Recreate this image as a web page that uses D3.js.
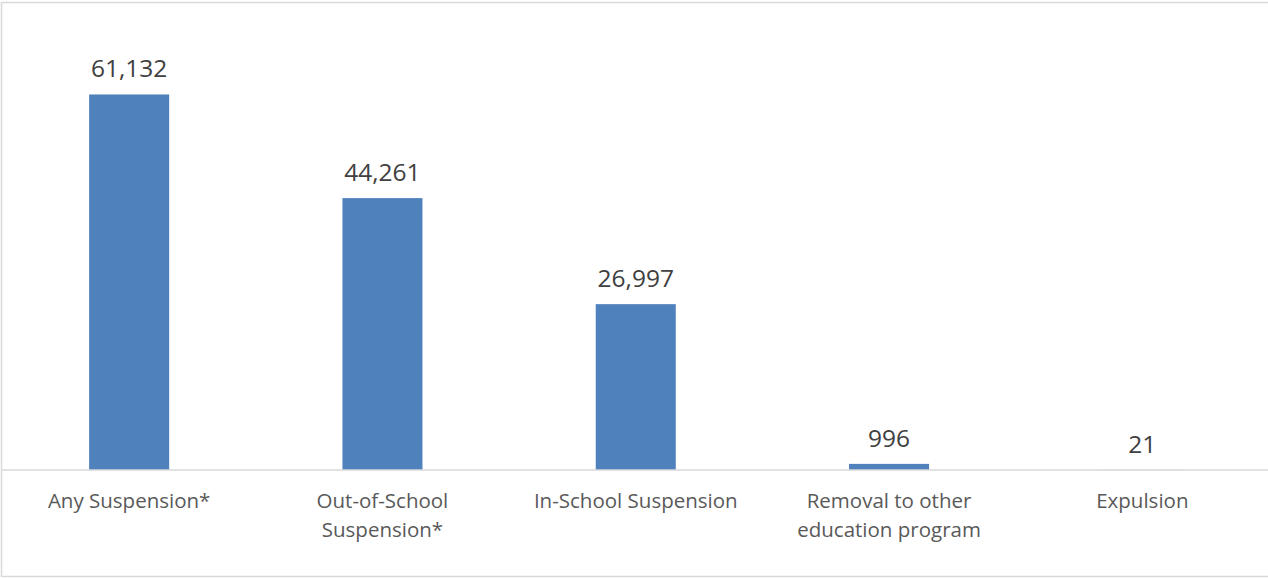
<!DOCTYPE html>
<html>
<head>
<meta charset="utf-8">
<script src="https://cdn.jsdelivr.net/npm/d3@7"></script>
<style>
  html, body { margin: 0; padding: 0; background: #fff; }
  svg { display: block; }
</style>
</head>
<body>
<svg id="chart" width="1268" height="578"></svg>
<script>
// Disciplinary actions, number of students
const categories = [
  ["Any Suspension*"],
  ["Out-of-School", "Suspension*"],
  ["In-School Suspension"],
  ["Removal to other", "education program"],
  ["Expulsion"]
];
const values = [61132, 44261, 26997, 996, 21];
const yDomain = [0, 70000];

const W = 1268, H = 578;
const svg = d3.select("#chart");

// chart frame
svg.append("rect")
  .attr("x", 1.5).attr("y", 2.5)
  .attr("width", W + 10).attr("height", 574)
  .attr("fill", "#fff")
  .attr("stroke", "#d9d9d9").attr("stroke-width", 1.5);

const x = d3.scaleBand()
  .domain(d3.range(values.length))
  .range([2.5, 1269])
  .paddingInner(0.684)
  .paddingOuter(0.342);

const y = d3.scaleLinear().domain(yDomain).range([470, 40]);

// bars
svg.append("g").selectAll("rect")
  .data(values)
  .join("rect")
  .attr("x", (d, i) => x(i))
  .attr("width", x.bandwidth())
  .attr("y", d => y(d))
  .attr("height", d => y(0) - y(d))
  .attr("fill", "#4f81bd");

// category axis line
svg.append("line")
  .attr("x1", 2).attr("x2", W)
  .attr("y1", y(0)).attr("y2", y(0))
  .attr("stroke", "#d9d9d9").attr("stroke-width", 1.5);

// data labels
const fmt = d3.format(",");
svg.append("g").selectAll("text")
  .data(values)
  .join("text")
  .attr("x", (d, i) => x(i) + x.bandwidth() / 2)
  .attr("y", d => y(d) - 17)
  .attr("text-anchor", "middle")
  .attr("font-family", "'Open Sans', sans-serif")
  .attr("font-size", 24.5)
  .attr("fill", "#404040")
  .text(d => fmt(d));

// category labels
const cat = svg.append("g").selectAll("text")
  .data(categories)
  .join("text")
  .attr("x", (d, i) => x(i) + x.bandwidth() / 2)
  .attr("y", 508)
  .attr("text-anchor", "middle")
  .attr("font-family", "'Open Sans', sans-serif")
  .attr("font-size", 20.5)
  .attr("fill", "#595959");
cat.selectAll("tspan")
  .data(d => d)
  .join("tspan")
  .attr("x", function () { return d3.select(this.parentNode).attr("x"); })
  .attr("dy", (d, i) => i === 0 ? 0 : 29)
  .text(d => d);
</script>
</body>
</html>
